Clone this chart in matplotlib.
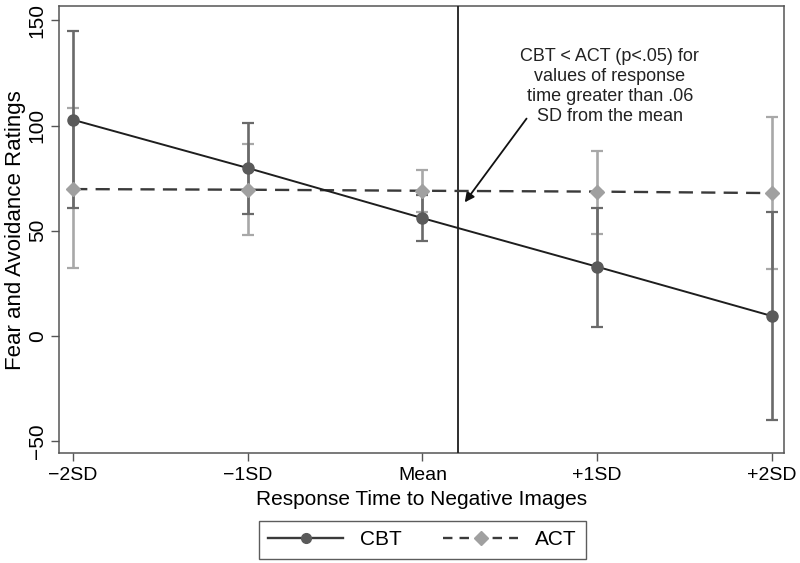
import matplotlib.pyplot as plt
from matplotlib.lines import Line2D

plt.rcParams['font.family'] = ['Liberation Sans', 'DejaVu Sans']

# data
x_labels = ['\u22122SD', '\u22121SD', 'Mean', '+1SD', '+2SD']
x_pos = [-2, -1, 0, 1, 2]
cbt_mean = [102.7, 79.8, 56.0, 32.9, 9.5]
cbt_lo = [60.8, 57.9, 45.0, 4.3, -39.7]
cbt_hi = [144.8, 101.1, 67.0, 61.0, 59.0]
act_mean = [69.8, 69.5, 69.0, 68.6, 67.9]
act_lo = [32.2, 47.9, 59.0, 48.6, 31.8]
act_hi = [108.2, 91.3, 79.0, 88.1, 104.0]
cut_x = 0.206

fig = plt.figure(figsize=(8, 5.63), dpi=100)
ax = fig.add_axes([0.074, 0.195, 0.906, 0.794])

cbt_err = [[m - l for m, l in zip(cbt_mean, cbt_lo)], [h - m for m, h in zip(cbt_mean, cbt_hi)]]
act_err = [[m - l for m, l in zip(act_mean, act_lo)], [h - m for m, h in zip(act_mean, act_hi)]]

ax.errorbar(x_pos, act_mean, yerr=act_err, fmt='none', ecolor='#a8a8a8',
            elinewidth=1.9, capsize=4, capthick=1.6, zorder=2)
ax.errorbar(x_pos, cbt_mean, yerr=cbt_err, fmt='none', ecolor='#6a6a6a',
            elinewidth=1.9, capsize=4, capthick=1.6, zorder=3)
ax.plot(x_pos, act_mean, color='#3a3a3a', linestyle=(0, (6, 3.5)), linewidth=1.7, zorder=4)
ax.plot(x_pos, act_mean, linestyle='none', marker='D', markersize=7.5,
        color='#a0a0a0', zorder=5)
ax.plot(x_pos, cbt_mean, color='#1e1e1e', linewidth=1.4, zorder=4)
ax.plot(x_pos, cbt_mean, linestyle='none', marker='o', markersize=8,
        color='#5a5a5a', zorder=5)

ax.axvline(cut_x, color='#1e1e1e', linewidth=1.3, zorder=3)

ax.text(1.073, 118.6, 'CBT < ACT (p<.05) for\nvalues of response\ntime greater than .06\nSD from the mean',
        ha='center', va='center', fontsize=13, color='#222222', linespacing=1.22)
ax.annotate('', xy=(0.242, 63.5), xytext=(0.596, 103.3),
            arrowprops=dict(arrowstyle='-|>', color='#111111', lw=1.3,
                            shrinkA=0, shrinkB=0, mutation_scale=14))

ax.set_xlim(-2.08, 2.07)
ax.set_ylim(-55.7, 156.7)
ax.set_xticks(x_pos)
ax.set_xticklabels(x_labels, fontsize=14)
ax.set_yticks([-50, 0, 50, 100, 150])
ax.set_yticklabels(['\u221250', '0', '50', '100', '150'], fontsize=15,
                   rotation=90, va='center')
ax.tick_params(axis='x', direction='out', length=6, width=1, color='#555555', pad=4)
ax.tick_params(axis='y', direction='out', length=6, width=1, color='#555555', pad=3)
for s in ax.spines.values():
    s.set_color('#555555')
    s.set_linewidth(1.1)

ax.set_xlabel('Response Time to Negative Images', fontsize=15, labelpad=4)
ax.set_ylabel('Fear and Avoidance Ratings', fontsize=16, labelpad=1)

handles = [
    Line2D([], [], color='#3a3a3a', linewidth=1.7, marker='o', markersize=7,
           markerfacecolor='#5a5a5a', markeredgecolor='#5a5a5a'),
    Line2D([], [], color='#3a3a3a', linewidth=1.7, linestyle=(0, (4, 3)), marker='D',
           markersize=7, markerfacecolor='#a0a0a0', markeredgecolor='#a0a0a0'),
]
leg = fig.legend(handles, ['CBT', 'ACT'], loc='center', bbox_to_anchor=(0.528, 0.041),
                 ncol=2, fontsize=15, frameon=True, fancybox=False, handlelength=3.6,
                 columnspacing=2.0, borderpad=0.45, edgecolor='#333333')
leg.get_frame().set_linewidth(1.0)

fig.savefig('out.png', dpi=100)
